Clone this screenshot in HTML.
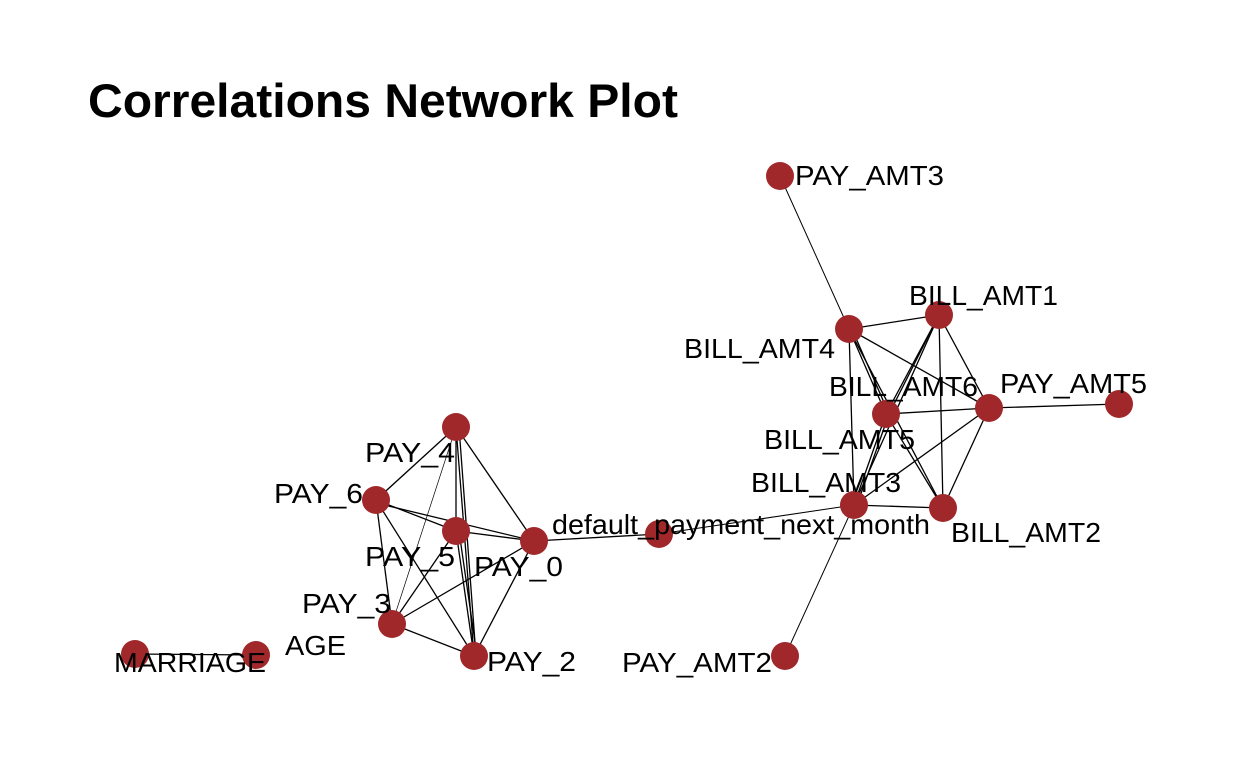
<!DOCTYPE html>
<html><head><style>body{margin:0;background:#fff}svg{display:block}</style></head><body>
<svg width="1248" height="768" xmlns="http://www.w3.org/2000/svg" font-family="Liberation Sans, sans-serif">
<rect width="1248" height="768" fill="#fff"/>
<text x="88" y="117" font-size="47" font-weight="bold" textLength="590" lengthAdjust="spacingAndGlyphs">Correlations Network Plot</text>
<g stroke="#000" stroke-width="1.3" fill="none">
<line x1="456" y1="427" x2="376" y2="500"/>
<line x1="456" y1="427" x2="456" y2="531"/>
<line x1="456" y1="427" x2="534" y2="541"/>
<line x1="456" y1="427" x2="392" y2="624" stroke-width="0.7"/>
<line x1="456" y1="427" x2="474" y2="656"/>
<line x1="459" y1="427" x2="476" y2="656"/>
<line x1="376" y1="500" x2="456" y2="531"/>
<line x1="376" y1="503" x2="534" y2="541"/>
<line x1="376" y1="500" x2="392" y2="624"/>
<line x1="376" y1="500" x2="474" y2="656"/>
<line x1="456" y1="531" x2="534" y2="541"/>
<line x1="456" y1="531" x2="392" y2="624"/>
<line x1="456" y1="531" x2="474" y2="656"/>
<line x1="459" y1="531" x2="477" y2="656"/>
<line x1="534" y1="541" x2="392" y2="624"/>
<line x1="534" y1="541" x2="474" y2="656"/>
<line x1="392" y1="624" x2="474" y2="656"/>
<line x1="534" y1="541" x2="659" y2="534"/>
<line x1="135" y1="654" x2="256" y2="655"/>
<line x1="780" y1="176" x2="849" y2="329" stroke-width="1"/>
<line x1="849" y1="329" x2="939" y2="315"/>
<line x1="849" y1="329" x2="989" y2="408"/>
<line x1="849" y1="329" x2="886" y2="414"/>
<line x1="852" y1="329" x2="889" y2="414"/>
<line x1="849" y1="329" x2="854" y2="505"/>
<line x1="849" y1="329" x2="943" y2="508"/>
<line x1="939" y1="315" x2="886" y2="414"/>
<line x1="939" y1="315" x2="889" y2="414"/>
<line x1="939" y1="315" x2="989" y2="408"/>
<line x1="939" y1="315" x2="943" y2="508"/>
<line x1="939" y1="315" x2="854" y2="505"/>
<line x1="886" y1="414" x2="989" y2="408"/>
<line x1="886" y1="414" x2="854" y2="505"/>
<line x1="889" y1="414" x2="857" y2="505"/>
<line x1="886" y1="414" x2="943" y2="508"/>
<line x1="989" y1="408" x2="854" y2="505"/>
<line x1="989" y1="408" x2="943" y2="508"/>
<line x1="854" y1="505" x2="943" y2="508"/>
<line x1="989" y1="408" x2="1119" y2="404"/>
<line x1="854" y1="505" x2="785" y2="656" stroke-width="1"/>
<line x1="659" y1="534" x2="854" y2="505" stroke-width="1"/>
</g>
<g fill="#a0282a">
<circle cx="780" cy="176" r="14"/><circle cx="849" cy="329" r="14"/><circle cx="939" cy="315" r="14"/>
<circle cx="886" cy="414" r="14"/><circle cx="989" cy="408" r="14"/><circle cx="1119" cy="404" r="14"/>
<circle cx="854" cy="505" r="14"/><circle cx="943" cy="508" r="14"/><circle cx="785" cy="656" r="14"/>
<circle cx="659" cy="534" r="14"/><circle cx="534" cy="541" r="14"/><circle cx="456" cy="427" r="14"/>
<circle cx="376" cy="500" r="14"/><circle cx="456" cy="531" r="14"/><circle cx="392" cy="624" r="14"/>
<circle cx="474" cy="656" r="14"/><circle cx="256" cy="655" r="14"/><circle cx="135" cy="654" r="14"/>
</g>
<g font-size="28" fill="#000">
<text x="795" y="185" textLength="149" lengthAdjust="spacingAndGlyphs">PAY_AMT3</text>
<text x="909" y="305" textLength="149" lengthAdjust="spacingAndGlyphs">BILL_AMT1</text>
<text x="684" y="358" textLength="151" lengthAdjust="spacingAndGlyphs">BILL_AMT4</text>
<text x="829" y="396" textLength="149" lengthAdjust="spacingAndGlyphs">BILL_AMT6</text>
<text x="1000" y="393" textLength="147" lengthAdjust="spacingAndGlyphs">PAY_AMT5</text>
<text x="764" y="449" textLength="151" lengthAdjust="spacingAndGlyphs">BILL_AMT5</text>
<text x="751" y="492" textLength="150" lengthAdjust="spacingAndGlyphs">BILL_AMT3</text>
<text x="951" y="542" textLength="150" lengthAdjust="spacingAndGlyphs">BILL_AMT2</text>
<text x="552" y="534" textLength="378" lengthAdjust="spacingAndGlyphs">default_payment_next_month</text>
<text x="622" y="672" textLength="150" lengthAdjust="spacingAndGlyphs">PAY_AMT2</text>
<text x="365" y="462" textLength="90" lengthAdjust="spacingAndGlyphs">PAY_4</text>
<text x="274" y="503" textLength="89" lengthAdjust="spacingAndGlyphs">PAY_6</text>
<text x="365" y="566" textLength="90" lengthAdjust="spacingAndGlyphs">PAY_5</text>
<text x="474" y="576" textLength="89" lengthAdjust="spacingAndGlyphs">PAY_0</text>
<text x="302" y="613" textLength="89" lengthAdjust="spacingAndGlyphs">PAY_3</text>
<text x="487" y="671" textLength="89" lengthAdjust="spacingAndGlyphs">PAY_2</text>
<text x="285" y="655" textLength="61" lengthAdjust="spacingAndGlyphs">AGE</text>
<text x="114" y="672" textLength="152" lengthAdjust="spacingAndGlyphs">MARRIAGE</text>
</g>
</svg>
</body></html>
